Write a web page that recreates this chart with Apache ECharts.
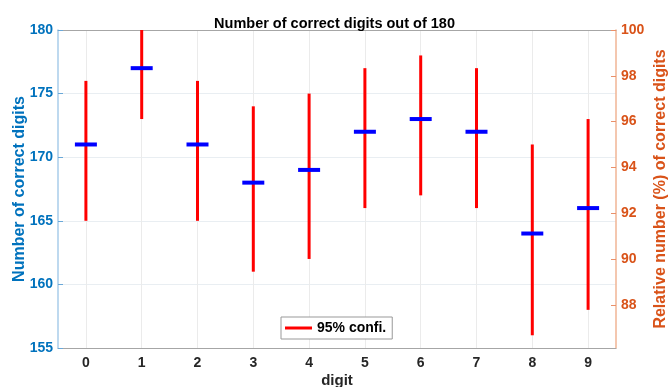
<!DOCTYPE html>
<html>
<head>
<meta charset="utf-8">
<script src="https://cdn.jsdelivr.net/npm/echarts@6/dist/echarts.min.js"></script>
<style>
  html, body { margin: 0; padding: 0; background: #fff; }
  #chart { width: 669px; height: 387px; }
</style>
</head>
<body>
<div id="chart"></div>
<script>
// digits on the x axis
const digits = ['0', '1', '2', '3', '4', '5', '6', '7', '8', '9']
// number of correct digits (blue marks)
const correct = [171, 177, 171, 168, 169, 172, 173, 172, 164, 166]
// 95% confidence interval (red bars)
const ciLow = [165, 173, 165, 161, 162, 166, 167, 166, 156, 158]
const ciHigh = [176, 181, 176, 174, 175, 177, 178, 177, 171, 173]
// right axis tick labels (%)
const percentTicks = [88, 90, 92, 94, 96, 98, 100]

const total = 180
const blue = '#0072BD'
const orange = '#D95319'
const font = 'Liberation Sans, Arial, sans-serif'

const chart = echarts.init(document.getElementById('chart'))

const ciData = digits.map((d, i) => [i, ciLow[i], ciHigh[i]])

const option = {
  animation: false,
  textStyle: { fontFamily: font },
  title: {
    text: 'Number of correct digits out of 180',
    left: 'center',
    top: 11,
    textStyle: { fontSize: 14.5, fontWeight: 'bold', color: '#000', fontFamily: font }
  },
  grid: { left: 58, right: 53, top: 30, bottom: 39, containLabel: false, outerBoundsMode: 'none' },
  legend: {
    data: [{ name: '95% confi.', icon: 'rect', itemStyle: { color: '#ff0000' } }],
    left: 281,
    top: 317,
    itemWidth: 27,
    itemHeight: 3,
    padding: [4, 6, 4, 4],
    borderColor: '#999',
    borderWidth: 1,
    backgroundColor: '#fff',
    selectedMode: false,
    textStyle: { fontSize: 14, fontWeight: 'bold', color: '#000', fontFamily: font }
  },
  xAxis: [
    {
      type: 'category',
      data: digits,
      name: 'digit',
      nameLocation: 'middle',
      nameGap: 25,
      nameMoveOverlap: false,
      nameTextStyle: { fontSize: 15, fontWeight: 'bold', color: '#262626' },
      axisLine: { lineStyle: { color: '#a6a6a6', width: 1 } },
      axisTick: { inside: true, alignWithLabel: true, length: 5, lineStyle: { color: '#777' } },
      axisLabel: { fontSize: 14, fontWeight: 'bold', color: '#262626', margin: 8 },
      splitLine: { show: true, alignWithLabel: true, lineStyle: { color: '#ebebeb' } }
    },
    {
      type: 'category',
      data: digits,
      position: 'top',
      axisLine: { lineStyle: { color: '#a6a6a6', width: 1 } },
      axisTick: { inside: true, alignWithLabel: true, length: 5, lineStyle: { color: '#777' } },
      axisLabel: { show: false },
      splitLine: { show: false }
    }
  ],
  yAxis: [
    {
      type: 'value',
      min: 155,
      max: 180,
      interval: 5,
      name: 'Number of correct digits',
      nameLocation: 'middle',
      nameGap: 30,
      nameMoveOverlap: false,
      nameTextStyle: { fontSize: 16, fontWeight: 'bold', color: blue },
      axisLine: { show: true, lineStyle: { color: '#a9cdea', width: 1.5 } },
      axisTick: { show: true, inside: true, length: 5, lineStyle: { color: '#6aa8d8' } },
      axisLabel: { fontSize: 14, fontWeight: 'bold', color: blue, margin: 5 },
      splitLine: { show: true, lineStyle: { color: '#e9eef2' } }
    },
    {
      type: 'value',
      position: 'right',
      min: 155 / total * 100,
      max: 100,
      name: 'Relative number (%) of correct digits',
      nameLocation: 'middle',
      nameGap: 37,
      nameRotate: 90,
      nameMoveOverlap: false,
      nameTextStyle: { fontSize: 16, fontWeight: 'bold', color: orange },
      axisLine: { show: true, lineStyle: { color: '#f0b495', width: 1.5 } },
      axisTick: { show: true, inside: true, length: 5, customValues: percentTicks, lineStyle: { color: '#e9906a' } },
      axisLabel: { fontSize: 14, fontWeight: 'bold', color: orange, margin: 5, customValues: percentTicks },
      splitLine: { show: false }
    }
  ],
  series: [
    {
      name: '95% confi.',
      type: 'custom',
      xAxisIndex: 0,
      yAxisIndex: 0,
      clip: true,
      itemStyle: { color: '#ff0000' },
      data: ciData,
      renderItem: (params, api) => {
        const top = api.coord([api.value(0), api.value(2)])
        const bottom = api.coord([api.value(0), api.value(1)])
        return {
          type: 'line',
          shape: { x1: top[0], y1: top[1], x2: bottom[0], y2: bottom[1] },
          style: { stroke: '#ff0000', lineWidth: 3 }
        }
      },
      z: 2
    },
    {
      name: 'correct',
      type: 'scatter',
      xAxisIndex: 0,
      yAxisIndex: 0,
      symbol: 'rect',
      symbolSize: [22, 4],
      itemStyle: { color: '#0000ff', opacity: 1 },
      data: correct,
      z: 3
    }
  ]
}

chart.setOption(option)
</script>
</body>
</html>
